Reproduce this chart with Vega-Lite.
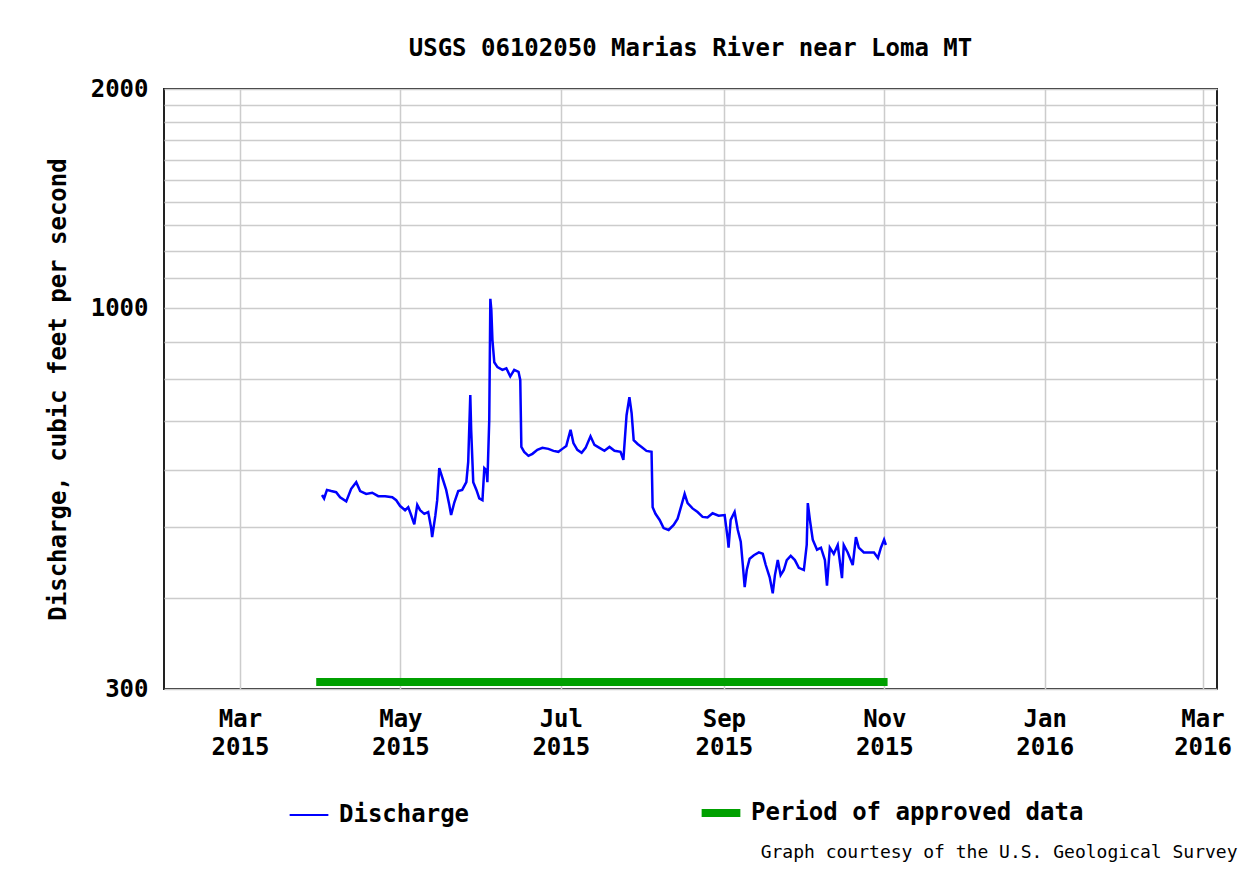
{
  "$schema": "https://vega.github.io/schema/vega-lite/v6.json",
  "autosize": {"type": "none"},
  "padding": {"left": 164, "top": 89, "right": 33, "bottom": 180},
  "width": 1053,
  "height": 600,
  "background": "white",
  "title": {
    "text": "USGS 06102050 Marias River near Loma MT",
    "font": "DejaVu Sans Mono",
    "fontWeight": "bold",
    "fontSize": 24,
    "color": "#000000",
    "anchor": "middle",
    "baseline": "alphabetic",
    "offset": -3
  },
  "config": {
    "view": {"stroke": "#222222", "strokeWidth": 2},
    "axis": {
      "domain": false,
      "ticks": false,
      "grid": true,
      "gridColor": "#cccccc",
      "gridWidth": 1.5,
      "labelFont": "DejaVu Sans Mono",
      "labelFontWeight": "bold",
      "labelFontSize": 24,
      "labelColor": "#000000",
      "titleFont": "DejaVu Sans Mono",
      "titleFontWeight": "bold",
      "titleFontSize": 24,
      "titleColor": "#000000"
    }
  },
  "datasets": {
    "flow": [
      {"date": "2015-04-01T05:00:00Z", "cfs": 554},
      {"date": "2015-04-02T00:00:00Z", "cfs": 548},
      {"date": "2015-04-03T02:00:00Z", "cfs": 563},
      {"date": "2015-04-04T17:00:00Z", "cfs": 561},
      {"date": "2015-04-06T14:00:00Z", "cfs": 559},
      {"date": "2015-04-08T02:00:00Z", "cfs": 550},
      {"date": "2015-04-10T10:00:00Z", "cfs": 543},
      {"date": "2015-04-12T07:00:00Z", "cfs": 565},
      {"date": "2015-04-14T05:00:00Z", "cfs": 577},
      {"date": "2015-04-15T17:00:00Z", "cfs": 561},
      {"date": "2015-04-18T00:00:00Z", "cfs": 556},
      {"date": "2015-04-20T07:00:00Z", "cfs": 558},
      {"date": "2015-04-22T14:00:00Z", "cfs": 552},
      {"date": "2015-04-25T05:00:00Z", "cfs": 552},
      {"date": "2015-04-27T22:00:00Z", "cfs": 550},
      {"date": "2015-04-29T10:00:00Z", "cfs": 545},
      {"date": "2015-04-30T22:00:00Z", "cfs": 535},
      {"date": "2015-05-02T19:00:00Z", "cfs": 528},
      {"date": "2015-05-04T00:00:00Z", "cfs": 533},
      {"date": "2015-05-05T02:00:00Z", "cfs": 520},
      {"date": "2015-05-06T07:00:00Z", "cfs": 505},
      {"date": "2015-05-07T10:00:00Z", "cfs": 537},
      {"date": "2015-05-08T12:00:00Z", "cfs": 528},
      {"date": "2015-05-10T02:00:00Z", "cfs": 522},
      {"date": "2015-05-11T14:00:00Z", "cfs": 525},
      {"date": "2015-05-12T17:00:00Z", "cfs": 499},
      {"date": "2015-05-13T02:00:00Z", "cfs": 485},
      {"date": "2015-05-14T07:00:00Z", "cfs": 519},
      {"date": "2015-05-15T00:00:00Z", "cfs": 545},
      {"date": "2015-05-15T19:00:00Z", "cfs": 603},
      {"date": "2015-05-17T07:00:00Z", "cfs": 580},
      {"date": "2015-05-18T10:00:00Z", "cfs": 563},
      {"date": "2015-05-19T14:00:00Z", "cfs": 537},
      {"date": "2015-05-20T07:00:00Z", "cfs": 520},
      {"date": "2015-05-21T12:00:00Z", "cfs": 541},
      {"date": "2015-05-23T00:00:00Z", "cfs": 561},
      {"date": "2015-05-24T12:00:00Z", "cfs": 563},
      {"date": "2015-05-26T02:00:00Z", "cfs": 577},
      {"date": "2015-05-26T19:00:00Z", "cfs": 615},
      {"date": "2015-05-27T14:00:00Z", "cfs": 760},
      {"date": "2015-05-27T22:00:00Z", "cfs": 681},
      {"date": "2015-05-28T17:00:00Z", "cfs": 577},
      {"date": "2015-05-29T22:00:00Z", "cfs": 563},
      {"date": "2015-05-31T00:00:00Z", "cfs": 548},
      {"date": "2015-06-01T05:00:00Z", "cfs": 545},
      {"date": "2015-06-01T22:00:00Z", "cfs": 603},
      {"date": "2015-06-02T17:00:00Z", "cfs": 599},
      {"date": "2015-06-03T02:00:00Z", "cfs": 577},
      {"date": "2015-06-03T19:00:00Z", "cfs": 702},
      {"date": "2015-06-04T05:00:00Z", "cfs": 1030},
      {"date": "2015-06-04T14:00:00Z", "cfs": 995},
      {"date": "2015-06-05T00:00:00Z", "cfs": 905},
      {"date": "2015-06-05T17:00:00Z", "cfs": 843},
      {"date": "2015-06-06T22:00:00Z", "cfs": 830},
      {"date": "2015-06-08T19:00:00Z", "cfs": 823},
      {"date": "2015-06-10T07:00:00Z", "cfs": 827},
      {"date": "2015-06-11T19:00:00Z", "cfs": 806},
      {"date": "2015-06-13T07:00:00Z", "cfs": 823},
      {"date": "2015-06-14T22:00:00Z", "cfs": 818},
      {"date": "2015-06-15T14:00:00Z", "cfs": 797},
      {"date": "2015-06-16T00:00:00Z", "cfs": 645},
      {"date": "2015-06-17T02:00:00Z", "cfs": 635},
      {"date": "2015-06-18T17:00:00Z", "cfs": 627},
      {"date": "2015-06-20T05:00:00Z", "cfs": 631},
      {"date": "2015-06-22T02:00:00Z", "cfs": 639},
      {"date": "2015-06-24T00:00:00Z", "cfs": 643},
      {"date": "2015-06-26T07:00:00Z", "cfs": 641},
      {"date": "2015-06-28T05:00:00Z", "cfs": 637},
      {"date": "2015-06-30T02:00:00Z", "cfs": 635},
      {"date": "2015-07-01T14:00:00Z", "cfs": 641},
      {"date": "2015-07-03T02:00:00Z", "cfs": 647},
      {"date": "2015-07-04T17:00:00Z", "cfs": 681},
      {"date": "2015-07-05T19:00:00Z", "cfs": 653},
      {"date": "2015-07-07T07:00:00Z", "cfs": 639},
      {"date": "2015-07-08T22:00:00Z", "cfs": 633},
      {"date": "2015-07-10T10:00:00Z", "cfs": 643},
      {"date": "2015-07-12T07:00:00Z", "cfs": 667},
      {"date": "2015-07-13T19:00:00Z", "cfs": 649},
      {"date": "2015-07-15T17:00:00Z", "cfs": 643},
      {"date": "2015-07-17T14:00:00Z", "cfs": 637},
      {"date": "2015-07-19T12:00:00Z", "cfs": 645},
      {"date": "2015-07-21T10:00:00Z", "cfs": 637},
      {"date": "2015-07-23T17:00:00Z", "cfs": 635},
      {"date": "2015-07-24T19:00:00Z", "cfs": 619},
      {"date": "2015-07-26T00:00:00Z", "cfs": 713},
      {"date": "2015-07-27T02:00:00Z", "cfs": 755},
      {"date": "2015-07-27T22:00:00Z", "cfs": 718},
      {"date": "2015-07-28T17:00:00Z", "cfs": 659},
      {"date": "2015-07-30T05:00:00Z", "cfs": 651},
      {"date": "2015-07-31T17:00:00Z", "cfs": 645},
      {"date": "2015-08-02T14:00:00Z", "cfs": 637},
      {"date": "2015-08-04T12:00:00Z", "cfs": 635},
      {"date": "2015-08-04T22:00:00Z", "cfs": 533},
      {"date": "2015-08-06T00:00:00Z", "cfs": 522},
      {"date": "2015-08-07T14:00:00Z", "cfs": 512},
      {"date": "2015-08-09T02:00:00Z", "cfs": 499},
      {"date": "2015-08-11T00:00:00Z", "cfs": 496},
      {"date": "2015-08-12T22:00:00Z", "cfs": 504},
      {"date": "2015-08-14T10:00:00Z", "cfs": 514},
      {"date": "2015-08-15T22:00:00Z", "cfs": 537},
      {"date": "2015-08-17T02:00:00Z", "cfs": 556},
      {"date": "2015-08-18T05:00:00Z", "cfs": 540},
      {"date": "2015-08-20T02:00:00Z", "cfs": 531},
      {"date": "2015-08-22T00:00:00Z", "cfs": 525},
      {"date": "2015-08-23T22:00:00Z", "cfs": 517},
      {"date": "2015-08-25T19:00:00Z", "cfs": 516},
      {"date": "2015-08-27T17:00:00Z", "cfs": 523},
      {"date": "2015-08-30T00:00:00Z", "cfs": 519},
      {"date": "2015-09-01T07:00:00Z", "cfs": 520},
      {"date": "2015-09-02T12:00:00Z", "cfs": 481},
      {"date": "2015-09-02T19:00:00Z", "cfs": 469},
      {"date": "2015-09-03T14:00:00Z", "cfs": 512},
      {"date": "2015-09-05T02:00:00Z", "cfs": 525},
      {"date": "2015-09-06T07:00:00Z", "cfs": 496},
      {"date": "2015-09-07T10:00:00Z", "cfs": 478},
      {"date": "2015-09-08T05:00:00Z", "cfs": 444},
      {"date": "2015-09-08T22:00:00Z", "cfs": 414},
      {"date": "2015-09-09T17:00:00Z", "cfs": 437},
      {"date": "2015-09-10T19:00:00Z", "cfs": 453},
      {"date": "2015-09-12T10:00:00Z", "cfs": 458},
      {"date": "2015-09-14T07:00:00Z", "cfs": 462},
      {"date": "2015-09-15T19:00:00Z", "cfs": 460},
      {"date": "2015-09-16T22:00:00Z", "cfs": 444},
      {"date": "2015-09-18T10:00:00Z", "cfs": 427},
      {"date": "2015-09-19T14:00:00Z", "cfs": 406},
      {"date": "2015-09-20T10:00:00Z", "cfs": 430},
      {"date": "2015-09-21T12:00:00Z", "cfs": 451},
      {"date": "2015-09-22T14:00:00Z", "cfs": 430},
      {"date": "2015-09-23T19:00:00Z", "cfs": 437},
      {"date": "2015-09-24T22:00:00Z", "cfs": 451},
      {"date": "2015-09-26T10:00:00Z", "cfs": 457},
      {"date": "2015-09-28T00:00:00Z", "cfs": 451},
      {"date": "2015-09-29T12:00:00Z", "cfs": 440},
      {"date": "2015-10-01T10:00:00Z", "cfs": 437},
      {"date": "2015-10-02T12:00:00Z", "cfs": 473},
      {"date": "2015-10-02T22:00:00Z", "cfs": 540},
      {"date": "2015-10-03T17:00:00Z", "cfs": 512},
      {"date": "2015-10-04T19:00:00Z", "cfs": 481},
      {"date": "2015-10-06T10:00:00Z", "cfs": 466},
      {"date": "2015-10-07T22:00:00Z", "cfs": 469},
      {"date": "2015-10-09T10:00:00Z", "cfs": 451},
      {"date": "2015-10-10T05:00:00Z", "cfs": 416},
      {"date": "2015-10-11T07:00:00Z", "cfs": 469},
      {"date": "2015-10-12T19:00:00Z", "cfs": 460},
      {"date": "2015-10-14T07:00:00Z", "cfs": 473},
      {"date": "2015-10-15T22:00:00Z", "cfs": 426},
      {"date": "2015-10-16T14:00:00Z", "cfs": 473},
      {"date": "2015-10-18T02:00:00Z", "cfs": 462},
      {"date": "2015-10-20T00:00:00Z", "cfs": 444},
      {"date": "2015-10-21T05:00:00Z", "cfs": 485},
      {"date": "2015-10-22T07:00:00Z", "cfs": 469},
      {"date": "2015-10-24T05:00:00Z", "cfs": 462},
      {"date": "2015-10-26T02:00:00Z", "cfs": 462},
      {"date": "2015-10-28T02:00:00Z", "cfs": 462},
      {"date": "2015-10-29T14:00:00Z", "cfs": 454},
      {"date": "2015-10-30T17:00:00Z", "cfs": 469},
      {"date": "2015-10-31T22:00:00Z", "cfs": 481},
      {"date": "2015-11-01T14:00:00Z", "cfs": 473}
    ],
    "approved": [
      {"start": "2015-03-30T00:00:00Z", "end": "2015-11-02T06:00:00Z", "series": "Period of approved data"}
    ]
  },
  "layer": [
    {
      "data": {"name": "approved"},
      "mark": {"type": "rule", "strokeWidth": 8, "strokeCap": "butt"},
      "encoding": {
        "x": {"field": "start", "type": "temporal"},
        "x2": {"field": "end"},
        "y": {"datum": 300, "type": "quantitative"},
        "yOffset": {"value": -7},
        "color": {"field": "series", "type": "nominal"}
      }
    },
    {
      "data": {"name": "flow"},
      "transform": [{"calculate": "'Discharge'", "as": "series"}],
      "mark": {"type": "line", "strokeWidth": 2.5, "clip": true},
      "encoding": {
        "x": {
          "field": "date",
          "type": "temporal",
          "scale": {
            "type": "utc",
            "domain": [
              {"year": 2015, "month": 1, "date": 31, "hours": 3, "utc": true},
              {"year": 2016, "month": 3, "date": 6, "hours": 12, "utc": true}
            ]
          },
          "axis": {
            "values": [
              {"year": 2015, "month": 3, "date": 1, "utc": true},
              {"year": 2015, "month": 5, "date": 1, "utc": true},
              {"year": 2015, "month": 7, "date": 1, "utc": true},
              {"year": 2015, "month": 9, "date": 1, "utc": true},
              {"year": 2015, "month": 11, "date": 1, "utc": true},
              {"year": 2016, "month": 1, "date": 1, "utc": true},
              {"year": 2016, "month": 3, "date": 1, "utc": true}
            ],
            "labelExpr": "[utcFormat(datum.value, '%b'), utcFormat(datum.value, '%Y')]",
            "labelLineHeight": 28,
            "labelPadding": 18,
            "labelBaseline": "top",
            "title": "Graph courtesy of the U.S. Geological Survey",
            "titleFontWeight": "normal",
            "titleFontSize": 18,
            "titleAnchor": "end",
            "titleAlign": "right",
            "titleBaseline": "middle",
            "titleX": 1073,
            "titleY": 163
          }
        },
        "y": {
          "field": "cfs",
          "type": "quantitative",
          "scale": {"type": "log", "domain": [300, 2000], "nice": false},
          "axis": {
            "values": [300, 400, 500, 600, 700, 800, 900, 1000, 1100, 1200, 1300, 1400, 1500, 1600, 1700, 1800, 1900, 2000],
            "labelExpr": "datum.value == 300 || datum.value == 1000 || datum.value == 2000 ? format(datum.value, 'd') : ''",
            "labelPadding": 16,
            "title": "Discharge, cubic feet per second",
            "titlePadding": 20
          }
        },
        "color": {
          "field": "series",
          "type": "nominal",
          "scale": {"domain": ["Discharge", "Period of approved data"], "range": ["#0000ff", "#00a000"]},
          "legend": {
            "title": null,
            "orient": "none",
            "direction": "horizontal",
            "columns": 2,
            "legendX": 133,
            "legendY": 712,
            "symbolType": "stroke",
            "symbolSize": 1500,
            "symbolStrokeWidth": 2,
            "labelFont": "DejaVu Sans Mono",
            "labelFontWeight": "bold",
            "labelFontSize": 24,
            "labelColor": "#000000",
            "labelOffset": 18,
            "columnPadding": 215,
            "labelLimit": 500,
            "encode": {
              "symbols": {"update": {"strokeWidth": {"signal": "datum.value === 'Discharge' ? 2 : 8"}}}
            }
          }
        }
      }
    }
  ]
}
